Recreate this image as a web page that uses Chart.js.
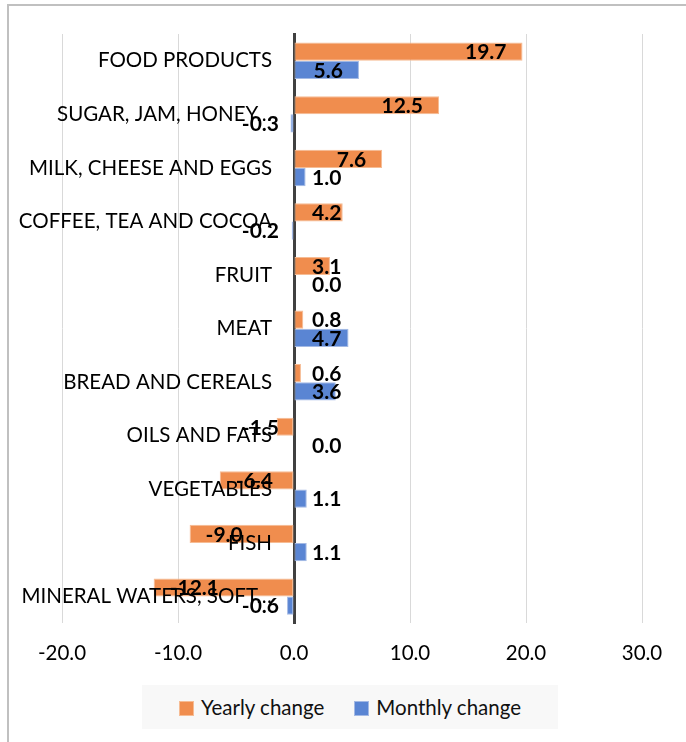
<!DOCTYPE html>
<html>
<head>
<meta charset="utf-8">
<script src="https://cdn.jsdelivr.net/npm/chart.js@4.4.1/dist/chart.umd.min.js"></script>
<style>
  html, body { margin: 0; padding: 0; background: #fff; overflow: hidden; }
  .frame { position: absolute; left: 7px; top: 4px; width: 720px; height: 780px;
           border-left: 2px solid #c0c0c0; border-top: 2px solid #c0c0c0; }
  .wrap { position: absolute; left: 0; top: 0; width: 686px; height: 742px; }
  .legend { position: absolute; left: 142px; top: 685px; width: 416px; height: 44px;
            background: #f8f8f8; display: flex; align-items: center; justify-content: center;
            font-family: Lato, "Noto Sans", sans-serif; font-size: 20.5px; color: #111; gap: 30px; }
  .legend span.box { display: inline-block; width: 13px; height: 13px; margin-right: 7px; vertical-align: -1px; }
</style>
</head>
<body>
<div class="frame"></div>
<div class="wrap"><canvas id="chart" width="686" height="742"></canvas></div>
<div class="legend">
  <div><span class="box" style="background:#F08D4E;border:1px solid #F6BC94"></span>Yearly change</div>
  <div><span class="box" style="background:#5A85D3;border:1px solid #A3B9E4"></span>Monthly change</div>
</div>
<script>
const categories = [
  'FOOD PRODUCTS',
  'SUGAR, JAM, HONEY\u2026',
  'MILK, CHEESE AND EGGS',
  'COFFEE, TEA AND COCOA',
  'FRUIT',
  'MEAT',
  'BREAD AND CEREALS',
  'OILS AND FATS',
  'VEGETABLES',
  'FISH',
  'MINERAL WATERS, SOFT\u2026'
];
const yearlyChange = [19.7, 12.5, 7.6, 4.2, 3.1, 0.8, 0.6, -1.5, -6.4, -9.0, -12.1];
const monthlyChange = [5.6, -0.3, 1.0, -0.2, 0.0, 4.7, 3.6, 0.0, 1.1, 1.1, -0.6];
const xTicks = [-20, -10, 0, 10, 20, 30];

const FONT = 'Lato, "Noto Sans", sans-serif';

// category names sit left of the zero axis, drawn over the bars like in Excel
const categoryLabels = {
  id: 'categoryLabels',
  afterDatasetsDraw(chart) {
    const ctx = chart.ctx;
    const y = chart.scales.y;
    const zero = chart.scales.x.getPixelForValue(0);
    ctx.save();
    ctx.font = '20.5px ' + FONT;
    ctx.fillStyle = '#000';
    ctx.textAlign = 'right';
    ctx.textBaseline = 'middle';
    chart.data.labels.forEach((lab, i) => {
      ctx.fillText(lab, zero - 22, y.getPixelForTick(i));
    });
    ctx.restore();
  }
};

// value labels near the bar end, kept clear of the zero axis
const valueLabels = {
  id: 'valueLabels',
  afterDatasetsDraw(chart) {
    const ctx = chart.ctx;
    const x = chart.scales.x;
    const zero = x.getPixelForValue(0);
    ctx.save();
    ctx.font = 'bold 21px ' + FONT;
    ctx.fillStyle = '#000';
    ctx.textBaseline = 'middle';
    chart.data.datasets.forEach((ds, i) => {
      chart.getDatasetMeta(i).data.forEach((bar, j) => {
        const v = ds.data[j];
        const txt = v.toFixed(1);
        const w = ctx.measureText(txt).width;
        const end = x.getPixelForValue(v);
        if (v >= 0) {
          const right = Math.max(end - 16, zero + 18 + w);
          ctx.textAlign = 'right';
          ctx.fillText(txt, right, bar.y + 1);
        } else {
          const left = Math.min(end + 16, zero - 15 - w);
          ctx.textAlign = 'left';
          ctx.fillText(txt, left, bar.y + 1);
        }
      });
    });
    ctx.restore();
  }
};

new Chart(document.getElementById('chart'), {
  type: 'bar',
  data: {
    labels: categories,
    datasets: [
      {
        label: 'Yearly change',
        data: yearlyChange,
        backgroundColor: '#F08D4E',
        borderColor: '#F6BC94',
        borderWidth: 1,
        borderSkipped: false
      },
      {
        label: 'Monthly change',
        data: monthlyChange,
        backgroundColor: '#5A85D3',
        borderColor: '#A3B9E4',
        borderWidth: 1,
        borderSkipped: false
      }
    ]
  },
  options: {
    indexAxis: 'y',
    responsive: false,
    animation: false,
    categoryPercentage: 0.68,
    barPercentage: 1.0,
    layout: { padding: { left: 62, right: 44, top: 34, bottom: 58 } },
    plugins: {
      legend: { display: false },
      tooltip: { enabled: false }
    },
    scales: {
      x: {
        min: -20,
        max: 30,
        afterBuildTicks: (axis) => { axis.ticks = xTicks.map(v => ({ value: v })); },
        grid: {
          color: (c) => c.tick && c.tick.value === 0 ? 'rgba(0,0,0,0)' : '#d9d9d9',
          lineWidth: 1,
          drawTicks: false
        },
        border: { display: false },
        ticks: {
          padding: 18,
          color: '#000',
          font: { family: FONT, size: 20.5 },
          callback: (v) => Number(v).toFixed(1)
        }
      },
      y: {
        position: { x: 0 },
        grid: { display: false, drawTicks: false },
        border: { color: '#404040', width: 3 },
        ticks: { display: false }
      }
    }
  },
  plugins: [categoryLabels, valueLabels]
});
</script>
</body>
</html>
